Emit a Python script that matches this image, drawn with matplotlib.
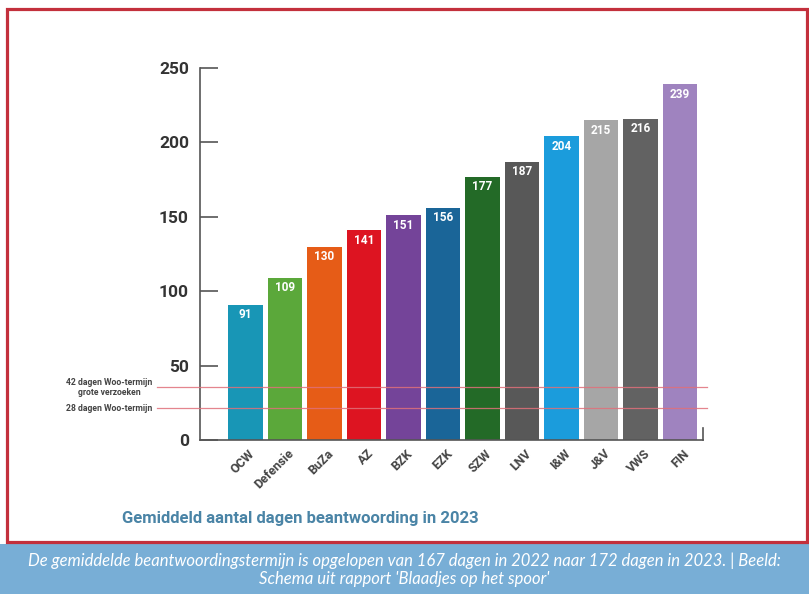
#!/usr/bin/env python3
# -*- coding: utf-8 -*-
"""Gemiddeld aantal dagen beantwoording Woo-verzoeken per ministerie (2023)."""
import matplotlib

matplotlib.use("Agg")
import matplotlib.pyplot as plt
from matplotlib.patches import Rectangle
import matplotlib.transforms as mtransforms

matplotlib.rcParams.update({"font.family": ["Roboto", "DejaVu Sans"]})

# data
ministeries = ["OCW", "Defensie", "BuZa", "AZ", "BZK", "EZK", "SZW", "LNV", "I&W", "J&V", "VWS", "FIN"]
dagen = [91, 109, 130, 141, 151, 156, 177, 187, 204, 215, 216, 239]
kleuren = ["#1896b6", "#5ba83a", "#e65c17", "#dd1421", "#744499", "#1a6598",
           "#236a27", "#585858", "#1b9cdc", "#a6a6a6", "#626262", "#9f83bf"]
y_ticks = [0, 50, 100, 150, 200, 250]
# referentielijnen (positie zoals in de afbeelding) met hun label
termijn_pos = [35.5, 21.5]
termijn_labels = ["42 dagen Woo-termijn\ngrote verzoeken", "28 dagen Woo-termijn"]

titel = "Gemiddeld aantal dagen beantwoording in 2023"
bijschrift = ("De gemiddelde beantwoordingstermijn is opgelopen van 167 dagen in 2022 naar 172 dagen in 2023. | Beeld:\n"
              "Schema uit rapport 'Blaadjes op het spoor'")

fig = plt.figure(figsize=(8.09, 5.94), dpi=100)
W, H = 809, 594

# rode kader en blauwe bijschriftbalk
fig.patches.append(Rectangle((0, 0), 1, 50 / H, transform=fig.transFigure,
                             facecolor="#78aed6", edgecolor="none", zorder=0))
fig.patches.append(Rectangle((7 / W, 1 - 542 / H), 800 / W, 533 / H, transform=fig.transFigure,
                             facecolor="white", edgecolor="#c3303c", linewidth=2.3, zorder=1))

ax = fig.add_axes([200 / W, 1 - 440 / H, 503 / W, 372 / H])
ax.set_zorder(2)
ax.patch.set_alpha(0)

x = list(range(len(ministeries)))
bars = ax.bar(x, dagen, width=0.88, color=kleuren, zorder=2)
for rect, v in zip(bars, dagen):
    ax.annotate(str(v), (rect.get_x() + rect.get_width() / 2, v), xytext=(0, -2.5),
                textcoords="offset points", ha="center", va="top",
                color="white", fontsize=8.5, fontweight="bold", zorder=3)

for pos, lab in zip(termijn_pos, termijn_labels):
    ax.axhline(pos, xmin=-0.085, xmax=1.008, color="#e0707a", linewidth=0.9,
               alpha=0.85, clip_on=False, zorder=4)
    ax.text(-0.18, pos, lab, transform=ax.get_yaxis_transform(), ha="center",
            va="center", fontsize=6.2, color="#444444", fontweight="bold", linespacing=1.15)

ax.set_xlim(-1.15, 11.58)
ax.set_ylim(0, 250)
ax.set_yticks(y_ticks)
ax.tick_params(axis="y", direction="in", length=13, width=1.2, color="#555555",
               pad=8, labelsize=12.5, labelcolor="#333333")
for t in ax.get_yticklabels():
    t.set_fontweight("bold")

ax.set_xticks(x)
ax.set_xticklabels(ministeries, rotation=45, ha="right", va="top",
                   rotation_mode="anchor", fontsize=9, fontweight="bold", color="#444444")
ax.tick_params(axis="x", length=0, pad=5)
offset = mtransforms.ScaledTranslation(2 / 72, 0, fig.dpi_scale_trans)
for t in ax.get_xticklabels():
    t.set_transform(t.get_transform() + offset)

ax.spines["top"].set_visible(False)
ax.spines["right"].set_bounds(0, 8)
for s in ["left", "bottom", "right"]:
    ax.spines[s].set_color("#555555")
    ax.spines[s].set_linewidth(1.2)

fig.text(122 / W, 1 - 518 / H, titel, ha="left", va="center", fontsize=12,
         fontweight="bold", color="#4a84a6")
fig.text(0.5, 1 - 570 / H, bijschrift, ha="center", va="center", fontsize=12,
         style="italic", color="white", family=["Lato", "DejaVu Sans"], linespacing=1.15)

fig.savefig("out.png", dpi=100)
